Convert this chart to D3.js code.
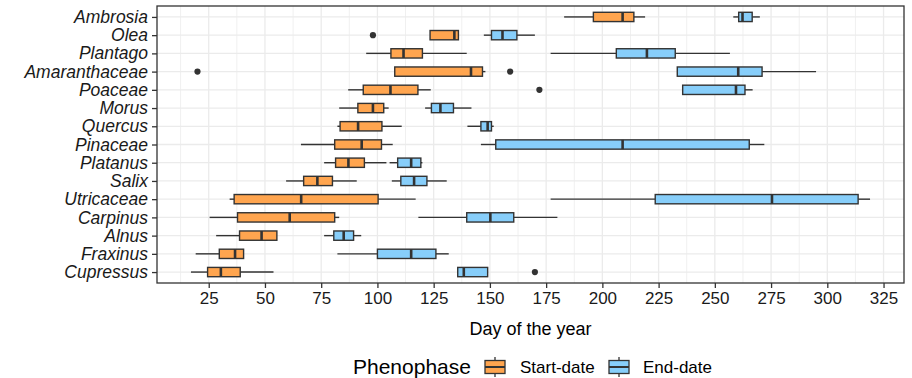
<!DOCTYPE html>
<html>
<head>
<meta charset="utf-8">
<script src="https://cdn.jsdelivr.net/npm/d3@7"></script>
<style>
  body { margin: 0; background: #fff; }
  svg { display: block; font-family: "Liberation Sans", Arial, sans-serif; }
</style>
</head>
<body>
<div id="chart"></div>
<script>
// taxa top to bottom
const taxa = ["Ambrosia", "Olea", "Plantago", "Amaranthaceae", "Poaceae", "Morus", "Quercus",
  "Pinaceae", "Platanus", "Salix", "Utricaceae", "Carpinus", "Alnus", "Fraxinus", "Cupressus"]

// [whisker low, q1, median, q3, whisker high] per taxon
const startStats = [
  [183, 196, 209, 214, 219],
  [123.4, 123.4, 134.2, 136, 136],
  [95, 106, 111.6, 120, 139.7],
  [107.7, 107.7, 141.6, 146.7, 148],
  [87, 93.7, 105.8, 118, 123.7],
  [83, 91.3, 98, 102.8, 105],
  [82.2, 83.4, 91.4, 102, 110.8],
  [66, 81, 93, 101.8, 106.8],
  [76.3, 81.4, 87.1, 94.2, 104],
  [59.4, 67.2, 73.3, 80, 90.8],
  [34.3, 36.3, 66.1, 100.3, 117],
  [25.4, 37.8, 61, 81, 83],
  [28.3, 38.7, 48.5, 55.3, 55.3],
  [19.2, 29.7, 36.7, 40.5, 40.5],
  [17.1, 24.5, 30.4, 39, 53.8]
]
const endStats = [
  [258.2, 260.6, 262.3, 266.6, 270],
  [147.3, 150.7, 155.6, 162, 170],
  [177, 206.2, 219.8, 232.4, 256.7],
  [233.3, 233.3, 260.4, 271, 295],
  [235.7, 235.7, 259.4, 263.4, 266.8],
  [121.2, 124, 128, 133.8, 141.8],
  [140, 146, 149, 150.7, 151.7],
  [146, 152.6, 209, 265.3, 272],
  [105.4, 109, 115, 119.3, 120],
  [106.4, 110.4, 116.3, 122, 130.8],
  [177, 223.5, 275.4, 313.7, 319],
  [118.2, 139.7, 150.2, 160.6, 180],
  [76.3, 80.6, 85, 89.4, 92.8],
  [82.2, 100, 115, 126, 131.7],
  [135.4, 135.7, 138.4, 149, 149]
]
const startOutliers = [[], [98], [], [20, 159], [172], [], [], [], [], [], [], [], [], [], []]
const endOutliers = [[], [], [], [], [], [], [], [], [], [], [], [], [], [], [170]]

const xTicks = [25, 50, 75, 100, 125, 150, 175, 200, 225, 250, 275, 300, 325]
const phases = ["Start-date", "End-date"]
const phaseColors = ["#FFA54F", "#87CEFA"]

const width = 912, height = 378
const panel = { left: 157, right: 904, top: 6, bottom: 283 }
const ink = "#333333"

const svg = d3.select("#chart").append("svg")
  .attr("width", width).attr("height", height)

// x domain like ggplot: data range + 5%
let allVals = []
startStats.forEach(d => allVals.push(...d))
endStats.forEach(d => allVals.push(...d))
startOutliers.forEach(d => allVals.push(...d))
endOutliers.forEach(d => allVals.push(...d))
let ext = d3.extent(allVals)
let pad = (ext[1] - ext[0]) * 0.05

const x = d3.scaleLinear().domain([ext[0] - pad, ext[1] + pad]).range([panel.left, panel.right])
const y = d3.scalePoint().domain(taxa).range([panel.top, panel.bottom]).padding(0.6)
const boxH = y.step() * 0.51

// grid
let minorTicks = d3.range(12.5, 340, 25).filter(v => x(v) > panel.left && x(v) < panel.right)
svg.append("g").selectAll("line").data(minorTicks).enter().append("line")
  .attr("x1", d => x(d)).attr("x2", d => x(d))
  .attr("y1", panel.top).attr("y2", panel.bottom)
  .attr("stroke", "#f0f0f0").attr("stroke-width", 1)
svg.append("g").selectAll("line").data(xTicks).enter().append("line")
  .attr("x1", d => x(d)).attr("x2", d => x(d))
  .attr("y1", panel.top).attr("y2", panel.bottom)
  .attr("stroke", "#ebebeb").attr("stroke-width", 1.3)
svg.append("g").selectAll("line").data(taxa).enter().append("line")
  .attr("x1", panel.left).attr("x2", panel.right)
  .attr("y1", d => y(d)).attr("y2", d => y(d))
  .attr("stroke", "#ebebeb").attr("stroke-width", 1.3)

// boxplots
function drawBoxes(stats, outliers, color) {
  let g = svg.append("g")
  stats.forEach((s, i) => {
    let cy = y(taxa[i])
    g.append("line").attr("x1", x(s[0])).attr("x2", x(s[1])).attr("y1", cy).attr("y2", cy)
      .attr("stroke", ink).attr("stroke-width", 1.4)
    g.append("line").attr("x1", x(s[3])).attr("x2", x(s[4])).attr("y1", cy).attr("y2", cy)
      .attr("stroke", ink).attr("stroke-width", 1.4)
    g.append("rect")
      .attr("x", x(s[1])).attr("y", cy - boxH / 2)
      .attr("width", x(s[3]) - x(s[1])).attr("height", boxH)
      .attr("fill", color).attr("stroke", ink).attr("stroke-width", 1.4)
    g.append("line").attr("x1", x(s[2])).attr("x2", x(s[2]))
      .attr("y1", cy - boxH / 2).attr("y2", cy + boxH / 2)
      .attr("stroke", ink).attr("stroke-width", 2.6)
    outliers[i].forEach(o => {
      g.append("circle").attr("cx", x(o)).attr("cy", cy).attr("r", 3.1).attr("fill", ink)
    })
  })
}
drawBoxes(startStats, startOutliers, phaseColors[0])
drawBoxes(endStats, endOutliers, phaseColors[1])

// panel border
svg.append("rect")
  .attr("x", panel.left).attr("y", panel.top)
  .attr("width", panel.right - panel.left).attr("height", panel.bottom - panel.top)
  .attr("fill", "none").attr("stroke", ink).attr("stroke-width", 1.3)

// axes
let xAxis = svg.append("g").attr("transform", `translate(0,${panel.bottom})`)
  .call(d3.axisBottom(x).tickValues(xTicks).tickSize(5).tickPadding(4))
xAxis.select(".domain").remove()
xAxis.selectAll("line").attr("stroke", ink).attr("stroke-width", 1.3)
xAxis.selectAll("text").attr("font-size", 17).attr("fill", "#1a1a1a")
  .attr("font-family", "Liberation Sans, Arial, sans-serif")

let yAxis = svg.append("g").attr("transform", `translate(${panel.left},0)`)
  .call(d3.axisLeft(y).tickSize(5).tickPadding(4))
yAxis.select(".domain").remove()
yAxis.selectAll("line").attr("stroke", ink).attr("stroke-width", 1.3)
yAxis.selectAll("text").attr("font-size", 17.5).attr("font-style", "italic").attr("fill", "#1a1a1a")
  .attr("font-family", "Liberation Sans, Arial, sans-serif")

svg.append("text")
  .attr("x", (panel.left + panel.right) / 2).attr("y", 335)
  .attr("text-anchor", "middle").attr("font-size", 18).attr("fill", "#000")
  .text("Day of the year")

// legend
let leg = svg.append("g")
leg.append("text").attr("x", 353).attr("y", 374).attr("font-size", 21).attr("fill", "#000").text("Phenophase")
let keyX = [485, 609]
let labX = [520, 643]
phases.forEach((p, i) => {
  let kx = keyX[i], cy = 367
  leg.append("line").attr("x1", kx + 10).attr("x2", kx + 10).attr("y1", cy - 10).attr("y2", cy + 10)
    .attr("stroke", ink).attr("stroke-width", 1.3)
  leg.append("rect").attr("x", kx).attr("y", cy - 6.5).attr("width", 20).attr("height", 13)
    .attr("fill", phaseColors[i]).attr("stroke", ink).attr("stroke-width", 1.3)
  leg.append("line").attr("x1", kx).attr("x2", kx + 20).attr("y1", cy).attr("y2", cy)
    .attr("stroke", ink).attr("stroke-width", 2)
  leg.append("text").attr("x", labX[i]).attr("y", 373).attr("font-size", 17).attr("fill", "#000").text(p)
})
</script>
</body>
</html>
